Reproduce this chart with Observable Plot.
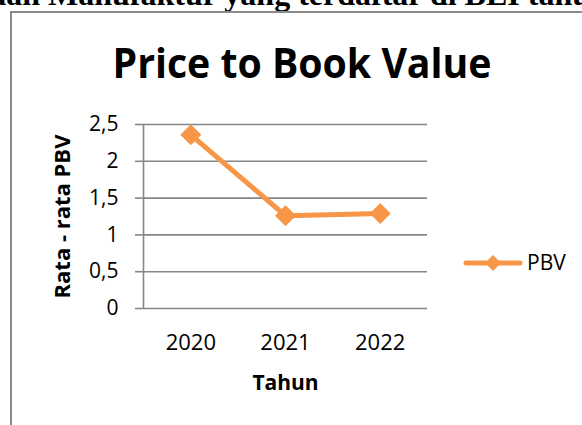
<!DOCTYPE html>
<html>
<head>
<meta charset="utf-8">
<script src="https://cdn.jsdelivr.net/npm/d3@7"></script>
<script src="https://cdn.jsdelivr.net/npm/@observablehq/plot@0.6"></script>
<style>
  html, body { margin: 0; padding: 0; background: #fff; }
  body { width: 582px; height: 425px; overflow: hidden; position: relative; font-family: "Open Sans", sans-serif; }
  #frame { position: absolute; left: 10px; top: 11px; width: 620px; height: 480px; border: 2px solid #8a8a8a; box-sizing: border-box; }
  .abs { position: absolute; }
</style>
</head>
<body>
<svg class="abs" id="caption" style="left:0;top:0;overflow:visible" width="582" height="12"></svg>
<div id="frame"></div>
<svg class="abs" id="title" style="left:0;top:0;overflow:visible" width="582" height="100"></svg>
<div class="abs" id="chart" style="left:0;top:100px"></div>
<svg class="abs" id="legend" style="left:455px;top:245px;overflow:visible" width="120" height="36"></svg>
<script>
const captionText = "Perusahaan Manufaktur yang terdaftar di BEI tahun 2020-2022";
const captionPrefix = "Perusahaan ";
const chartTitle = "Price to Book Value";
const years = [2020, 2021, 2022];
const pbv = [2.36, 1.26, 1.29];
const yTicks = [0, 0.5, 1, 1.5, 2, 2.5];
const yLabel = "Rata - rata PBV";
const xLabel = "Tahun";
const seriesName = "PBV";
const orange = "#F79646";
const gridColor = "#868686";

const data = years.map((y, i) => ({year: y, pbv: pbv[i]}));

// cropped caption at the very top
const capSize = 32;
const ctx = document.createElement("canvas").getContext("2d");
ctx.font = `bold ${capSize}px 'Liberation Serif'`;
const prefixW = ctx.measureText(captionPrefix).width;
d3.select("#caption").append("text").attr("x", 48 - prefixW).attr("y", 5)
  .attr("font-family", "Liberation Serif").attr("font-weight", "bold").attr("font-size", capSize)
  .attr("fill", "#000").text(captionText);

// title
d3.select("#title").append("text").attr("x", 302).attr("y", 78).attr("text-anchor", "middle")
  .attr("font-family", "Open Sans").attr("font-weight", "bold").attr("font-size", 41)
  .attr("textLength", 379).attr("lengthAdjust", "spacingAndGlyphs")
  .attr("fill", "#000").text(chartTitle);

const chart = Plot.plot({
  width: 440,
  height: 300,
  marginLeft: 143,
  marginRight: 13,
  marginTop: 24,
  marginBottom: 92,
  style: {fontFamily: "Open Sans", background: "transparent", overflow: "visible"},
  x: {domain: [years[0] - 0.5, years[years.length - 1] + 0.5]},
  y: {domain: [0, 2.5]},
  marks: [
    Plot.ruleY(yTicks, {y: d => d, x1: years[0] - 0.5, x2: years[years.length - 1] + 0.5, stroke: gridColor, strokeWidth: 1.6}),
    Plot.ruleX([years[0] - 0.5], {stroke: gridColor, strokeWidth: 1.6}),
    Plot.axisY({ticks: yTicks, tickSize: 8, tickPadding: 17, stroke: gridColor, strokeWidth: 1.6, fontSize: 21, fill: "#000",
      tickFormat: d => String(d).replace(".", ","), label: null}),
    Plot.axisX({ticks: years, tickSize: 0, tickPadding: 26, fontSize: 22, fill: "#000", tickFormat: d => String(d), label: null}),
    Plot.text([yLabel], {frameAnchor: "left", textAnchor: "middle", lineAnchor: "middle", rotate: -90, dx: -81, fontSize: 22, fontWeight: "bold", fill: "#000"}),
    Plot.text([xLabel], {frameAnchor: "bottom", textAnchor: "middle", lineAnchor: "middle", dy: 75, fontSize: 21, fontWeight: "bold", fill: "#000"}),
    Plot.line(data, {x: "year", y: "pbv", stroke: orange, strokeWidth: 5}),
    Plot.dot(data, {x: "year", y: "pbv", symbol: "diamond2", r: 9, fill: orange, stroke: orange, strokeWidth: 1})
  ]
});
document.getElementById("chart").appendChild(chart);

// legend
const lg = d3.select("#legend");
lg.append("line").attr("x1", 11).attr("x2", 65).attr("y1", 18).attr("y2", 18)
  .attr("stroke", orange).attr("stroke-width", 5).attr("stroke-linecap", "round");
lg.append("path").attr("d", d3.symbol(d3.symbolDiamond2, 2 * 9 * 9)()).attr("transform", "translate(38,18)")
  .attr("fill", orange);
lg.append("text").attr("x", 72).attr("y", 18).attr("dy", "0.35em")
  .attr("font-family", "Open Sans").attr("font-size", 21).attr("fill", "#000").text(seriesName);
</script>
</body>
</html>
